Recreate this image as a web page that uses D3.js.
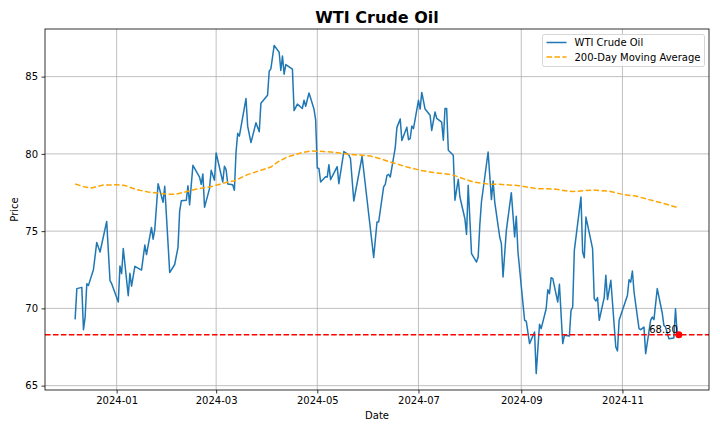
<!DOCTYPE html>
<html>
<head>
<meta charset="utf-8">
<script src="https://cdn.jsdelivr.net/npm/d3@7"></script>
<style>
  html, body { margin: 0; padding: 0; background: #fff; }
  svg { display: block; font-family: "DejaVu Sans", sans-serif; }
</style>
</head>
<body>
<svg id="chart" width="720" height="432"></svg>
<script>
// ---- data ----
const priceDates = [
  "2023-12-07","2023-12-08","2023-12-11","2023-12-12","2023-12-13","2023-12-14","2023-12-15","2023-12-18","2023-12-20","2023-12-22","2023-12-26","2023-12-28","2023-12-29",
  "2024-01-02","2024-01-03","2024-01-04","2024-01-05","2024-01-08","2024-01-09","2024-01-10","2024-01-12","2024-01-16","2024-01-18","2024-01-19","2024-01-22","2024-01-23","2024-01-24","2024-01-26","2024-01-29","2024-01-30",
  "2024-02-02","2024-02-05","2024-02-07","2024-02-08","2024-02-09","2024-02-12","2024-02-13","2024-02-14","2024-02-16","2024-02-20","2024-02-21","2024-02-22","2024-02-23","2024-02-26","2024-02-27","2024-02-29",
  "2024-03-01","2024-03-05","2024-03-06","2024-03-07","2024-03-08","2024-03-11","2024-03-12","2024-03-13","2024-03-14","2024-03-15","2024-03-19","2024-03-20","2024-03-22","2024-03-25","2024-03-27","2024-03-28",
  "2024-04-01","2024-04-02","2024-04-03","2024-04-05","2024-04-08","2024-04-09","2024-04-10","2024-04-11","2024-04-12","2024-04-16","2024-04-17","2024-04-19","2024-04-22","2024-04-23","2024-04-24","2024-04-26","2024-04-29","2024-04-30",
  "2024-05-01","2024-05-02","2024-05-03","2024-05-06","2024-05-07","2024-05-08","2024-05-09","2024-05-13","2024-05-14","2024-05-17","2024-05-20","2024-05-21","2024-05-23","2024-05-28",
  "2024-06-04","2024-06-06","2024-06-07","2024-06-10","2024-06-11","2024-06-12","2024-06-13","2024-06-14","2024-06-17","2024-06-18","2024-06-20","2024-06-21","2024-06-24","2024-06-25","2024-06-26","2024-06-27","2024-06-28",
  "2024-07-01","2024-07-02","2024-07-03","2024-07-05","2024-07-08","2024-07-09","2024-07-11","2024-07-12","2024-07-15","2024-07-16","2024-07-17","2024-07-18","2024-07-19","2024-07-22","2024-07-23","2024-07-25","2024-07-26","2024-07-29","2024-07-30","2024-07-31",
  "2024-08-02","2024-08-05","2024-08-06","2024-08-07","2024-08-08","2024-08-12","2024-08-14","2024-08-15","2024-08-16","2024-08-19","2024-08-20","2024-08-21","2024-08-23","2024-08-26","2024-08-28","2024-08-29","2024-08-30",
  "2024-09-03","2024-09-04","2024-09-06","2024-09-09","2024-09-10","2024-09-12","2024-09-13","2024-09-16","2024-09-17","2024-09-18","2024-09-19","2024-09-20","2024-09-23","2024-09-24","2024-09-26","2024-09-27","2024-09-30",
  "2024-10-01","2024-10-02","2024-10-03","2024-10-07","2024-10-08","2024-10-09","2024-10-10","2024-10-14","2024-10-15","2024-10-16","2024-10-17","2024-10-18","2024-10-21","2024-10-22","2024-10-23","2024-10-25","2024-10-28","2024-10-29","2024-10-30","2024-10-31",
  "2024-11-04","2024-11-05","2024-11-06","2024-11-07","2024-11-08","2024-11-11","2024-11-12","2024-11-14","2024-11-15","2024-11-18","2024-11-19","2024-11-20","2024-11-22","2024-11-25","2024-11-26","2024-11-27","2024-11-29",
  "2024-12-02","2024-12-03","2024-12-04","2024-12-05"
];
const priceValues = [
  69.34,71.28,71.36,68.62,69.44,71.60,71.49,72.50,74.27,73.65,75.63,71.80,71.60,
  70.41,72.75,72.25,73.87,70.82,72.27,71.44,72.72,72.48,74.10,73.48,75.24,74.48,75.10,78.07,76.87,77.90,
  72.32,72.84,73.95,76.28,76.96,77.00,77.93,76.70,79.26,78.50,78.03,78.70,76.54,77.75,78.94,78.30,
  80.06,78.18,79.20,78.98,78.05,78.00,77.64,80.12,81.33,81.15,83.58,81.80,80.73,82.01,81.43,83.27,
  83.79,85.35,85.50,87.02,86.58,85.40,86.33,85.16,85.78,85.48,82.80,83.22,82.94,83.47,83.08,83.94,82.90,82.20,
  79.08,79.05,78.18,78.52,78.50,79.30,78.33,79.17,78.07,80.15,79.93,79.70,76.95,79.83,
  73.30,75.59,75.59,77.86,78.03,78.61,78.68,78.50,80.40,81.70,82.26,80.86,81.72,80.92,80.99,81.80,81.63,
  83.47,82.90,83.98,82.90,82.50,81.52,82.71,82.30,82.06,80.88,82.93,82.93,80.23,79.91,77.00,78.35,77.21,75.80,74.79,77.97,
  73.55,73.00,73.32,75.40,76.90,80.12,77.04,78.24,76.88,74.62,74.19,72.03,75.05,77.49,74.62,75.96,73.65,
  69.23,69.18,67.72,68.47,65.78,68.97,68.69,69.98,71.21,70.95,71.99,71.93,70.41,71.56,67.72,68.26,68.21,
  69.87,70.09,73.76,77.21,73.65,73.28,75.91,73.87,70.63,70.48,70.70,69.23,70.70,72.14,70.57,71.82,67.50,67.25,69.23,69.55,
  70.84,71.86,71.70,72.42,71.06,68.69,68.62,68.79,67.07,69.23,69.44,69.27,71.28,69.70,68.90,68.80,68.04,
  68.08,69.98,68.37,68.30
];
const maDates = [
  "2023-12-07","2023-12-13","2023-12-17","2023-12-24","2024-01-01","2024-01-06","2024-01-13","2024-01-20","2024-01-31","2024-02-05",
  "2024-02-10","2024-02-18","2024-02-28","2024-03-07","2024-03-12","2024-03-20","2024-03-28","2024-04-03","2024-04-07","2024-04-13",
  "2024-04-21","2024-04-27","2024-05-03","2024-05-13","2024-05-21","2024-06-02","2024-06-08","2024-06-16","2024-06-24","2024-07-02",
  "2024-07-10","2024-07-21","2024-07-28","2024-08-03","2024-08-13","2024-08-19","2024-08-31","2024-09-10","2024-09-20","2024-10-02",
  "2024-10-14","2024-10-24","2024-11-01","2024-11-09","2024-11-17","2024-11-25","2024-12-05"
];
const maValues = [
  78.05,77.85,77.80,77.98,78.00,77.95,77.69,77.53,77.40,77.38,
  77.50,77.72,77.90,78.15,78.26,78.66,78.94,79.15,79.47,79.80,
  80.06,80.19,80.17,80.08,79.97,79.86,79.69,79.41,79.15,78.94,
  78.79,78.66,78.40,78.18,78.03,78.03,77.94,77.75,77.73,77.56,
  77.66,77.58,77.38,77.27,77.04,76.82,76.50
];
const lastPrice = 68.30;
const yTickValues = [65, 70, 75, 80, 85];
const xTickDates = ["2024-01-01","2024-03-01","2024-05-01","2024-07-01","2024-09-01","2024-11-01"];
const titleText = "WTI Crude Oil";
const seriesNames = ["WTI Crude Oil", "200-Day Moving Average"];

// ---- drawing ----
(function () {
const parse = d3.utcParse("%Y-%m-%d");
const price = priceDates.map((d, i) => ({ date: parse(d), value: priceValues[i] }));
const ma = maDates.map((d, i) => ({ date: parse(d), value: maValues[i] }));

const pL = 45, pR = 709, pT = 29, pB = 390;
const svg = d3.select("#chart");

const xExt = d3.extent(price, d => d.date);
const xSpan = xExt[1] - xExt[0];
const x = d3.scaleUtc()
  .domain([new Date(+xExt[0] - 0.05 * xSpan), new Date(+xExt[1] + 0.05 * xSpan)])
  .range([pL, pR]);

const allVals = priceValues.concat(maValues);
const yMin = d3.min(allVals), yMax = d3.max(allVals);
const ySpan = yMax - yMin;
const y = d3.scaleLinear()
  .domain([yMin - 0.05 * ySpan, yMax + 0.05 * ySpan])
  .range([pB, pT]);

// grid
const grid = svg.append("g");
yTickValues.forEach(v => {
  grid.append("line").attr("x1", pL).attr("x2", pR)
    .attr("y1", y(v)).attr("y2", y(v))
    .attr("stroke", "#b0b0b0").attr("stroke-width", 0.8);
});
xTickDates.forEach(s => {
  const d = parse(s);
  grid.append("line").attr("x1", x(d)).attr("x2", x(d))
    .attr("y1", pT).attr("y2", pB)
    .attr("stroke", "#b0b0b0").attr("stroke-width", 0.8);
});

// clip
svg.append("clipPath").attr("id", "clip").append("rect")
  .attr("x", pL).attr("y", pT).attr("width", pR - pL).attr("height", pB - pT);
const plot = svg.append("g").attr("clip-path", "url(#clip)");

const line = d3.line().x(d => x(d.date)).y(d => y(d.value));

plot.append("path").datum(price)
  .attr("d", line).attr("fill", "none")
  .attr("stroke", "#1f77b4").attr("stroke-width", 1.5)
  .attr("stroke-linejoin", "round").attr("stroke-linecap", "square");

plot.append("path").datum(ma)
  .attr("d", line).attr("fill", "none")
  .attr("stroke", "orange").attr("stroke-width", 1.5)
  .attr("stroke-dasharray", "5.55,2.4");

plot.append("line")
  .attr("x1", pL).attr("x2", pR)
  .attr("y1", y(lastPrice)).attr("y2", y(lastPrice))
  .attr("stroke", "red").attr("stroke-width", 1.5)
  .attr("stroke-dasharray", "5.55,2.4");

const last = price[price.length - 1];
plot.append("circle")
  .attr("cx", x(last.date)).attr("cy", y(last.value)).attr("r", 3.5)
  .attr("fill", "red");

svg.append("text")
  .attr("x", x(last.date) - 1).attr("y", y(last.value) - 2)
  .attr("text-anchor", "end")
  .attr("font-size", 10).attr("fill", "#000")
  .text(lastPrice.toFixed(2));

// axes
const xAxis = d3.axisBottom(x)
  .tickValues(xTickDates.map(parse))
  .tickFormat(d3.utcFormat("%Y-%m"))
  .tickSize(3.5).tickPadding(3.5);
const yAxis = d3.axisLeft(y)
  .tickValues(yTickValues)
  .tickFormat(d3.format("d"))
  .tickSize(3.5).tickPadding(3.5);

const gx = svg.append("g").attr("transform", `translate(0,${pB})`).call(xAxis);
const gy = svg.append("g").attr("transform", `translate(${pL},0)`).call(yAxis);
[gx, gy].forEach(g => {
  g.select(".domain").remove();
  g.selectAll(".tick line").attr("stroke", "#000").attr("stroke-width", 0.8);
  g.selectAll(".tick text").attr("font-size", 10).attr("fill", "#000")
    .attr("font-family", "DejaVu Sans, sans-serif");
});

// frame
svg.append("rect").attr("x", pL).attr("y", pT)
  .attr("width", pR - pL).attr("height", pB - pT)
  .attr("fill", "none").attr("stroke", "#000").attr("stroke-width", 0.8);

// labels
svg.append("text").attr("x", (pL + pR) / 2).attr("y", 23)
  .attr("text-anchor", "middle").attr("font-size", 16).attr("font-weight", "bold")
  .text(titleText);
svg.append("text").attr("x", (pL + pR) / 2).attr("y", 419)
  .attr("text-anchor", "middle").attr("font-size", 10).text("Date");
svg.append("text").attr("transform", `translate(18,${(pT + pB) / 2}) rotate(-90)`)
  .attr("text-anchor", "middle").attr("font-size", 10).text("Price");

// legend
const lg = svg.append("g").attr("transform", "translate(542.5,34.5)");
lg.append("rect").attr("width", 162).attr("height", 32).attr("rx", 2)
  .attr("fill", "#fff").attr("fill-opacity", 0.8)
  .attr("stroke", "#cccccc").attr("stroke-width", 0.8);
const styles = [
  { color: "#1f77b4", dash: null },
  { color: "orange", dash: "5.55,2.4" }
];
seriesNames.forEach((name, i) => {
  const yy = 8 + i * 14.5;
  const l = lg.append("line").attr("x1", 4).attr("x2", 24)
    .attr("y1", yy).attr("y2", yy)
    .attr("stroke", styles[i].color).attr("stroke-width", 1.5);
  if (styles[i].dash) l.attr("stroke-dasharray", styles[i].dash);
  lg.append("text").attr("x", 32).attr("y", yy + 3.5)
    .attr("font-size", 10).text(name);
});
})();
</script>
</body>
</html>
